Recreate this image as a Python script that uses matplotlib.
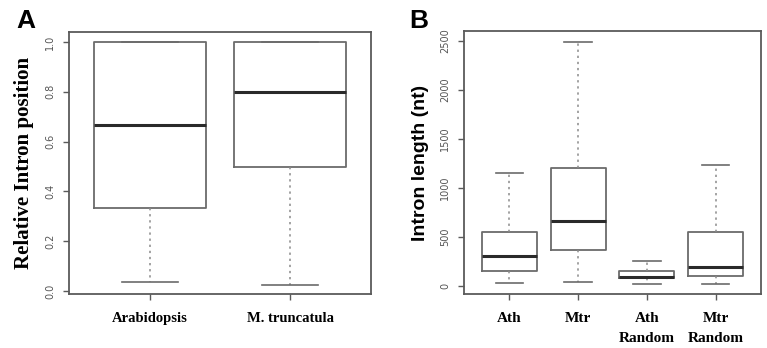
import matplotlib
matplotlib.use("Agg")
import matplotlib.pyplot as plt

# Panel A: relative intron position (summary stats)
a_labels = ["Arabidopsis", "M. truncatula"]
a_low = [0.035, 0.025]
a_q1 = [0.333, 0.50]
a_med = [0.667, 0.80]
a_q3 = [1.0, 1.0]
a_high = [1.0, 1.0]
a_ticks = [0.0, 0.2, 0.4, 0.6, 0.8, 1.0]

# Panel B: intron length (nt)
b_labels = ["Ath", "Mtr", "Ath\nRandom", "Mtr\nRandom"]
b_low = [35, 45, 25, 22]
b_q1 = [156, 363, 80, 98]
b_med = [309, 665, 95, 197]
b_q3 = [550, 1209, 156, 550]
b_high = [1148, 2493, 255, 1233]
b_ticks = [0, 500, 1000, 1500, 2000, 2500]

box_col = "#6b6b6b"
frame_col = "#5a5a5a"


def stats(labels, low, q1, med, q3, high):
    return [dict(label=l, whislo=lo, q1=a, med=m, q3=b, whishi=hi, fliers=[])
            for l, lo, a, m, b, hi in zip(labels, low, q1, med, q3, high)]


def draw(ax, st, n):
    ax.bxp(st, positions=range(1, n + 1), widths=0.8, capwidths=0.4,
           showfliers=False,
           boxprops=dict(color=box_col, linewidth=1.3),
           medianprops=dict(color="#2a2a2a", linewidth=2.2),
           whiskerprops=dict(color="#8a8a8a", linewidth=1.1, linestyle=(0, (1.5, 2.5))),
           capprops=dict(color=box_col, linewidth=1.2))
    ax.set_xlim(0.5 - 0.04 * n, n + 0.5 + 0.04 * n)
    for s in ax.spines.values():
        s.set_color(frame_col)
        s.set_linewidth(1.3)
    ax.tick_params(axis="both", colors=frame_col, length=4, width=1)
    ax.tick_params(axis="x", labelcolor="black", pad=9)
    ax.tick_params(axis="y", labelcolor="#555555", labelsize=7, pad=6)


fig = plt.figure(figsize=(7.67, 3.48), dpi=100)

axA = fig.add_axes([0.090, 0.155, 0.394, 0.753])
draw(axA, stats(a_labels, a_low, a_q1, a_med, a_q3, a_high), 2)
axA.set_ylim(-0.012, 1.04)
axA.set_yticks(a_ticks)
axA.set_yticklabels([f"{v:.1f}" for v in a_ticks], rotation=90, va="center")
axA.set_xticklabels(a_labels, fontsize=10.5, fontweight="bold",
                    family=["Liberation Serif"])
axA.set_ylabel("Relative Intron position", fontsize=15, fontweight="bold",
               family=["Liberation Serif"], labelpad=8)
fig.text(0.021, 0.975, "A", fontsize=19, fontweight="bold", va="top",
         family=["Liberation Sans"])

axB = fig.add_axes([0.605, 0.155, 0.387, 0.756])
draw(axB, stats(b_labels, b_low, b_q1, b_med, b_q3, b_high), 4)
axB.set_ylim(-82, 2602)
axB.set_yticks(b_ticks)
axB.set_yticklabels([str(v) for v in b_ticks], rotation=90, va="center")
axB.set_xticklabels(b_labels, fontsize=11, fontweight="bold",
                    family=["Liberation Serif"], linespacing=1.7, va="top")
axB.set_ylabel("Intron length (nt)", fontsize=14, fontweight="bold",
               family=["Liberation Sans"], labelpad=8)
fig.text(0.534, 0.975, "B", fontsize=19, fontweight="bold", va="top",
         family=["Liberation Sans"])

fig.savefig("out.png", dpi=100)
